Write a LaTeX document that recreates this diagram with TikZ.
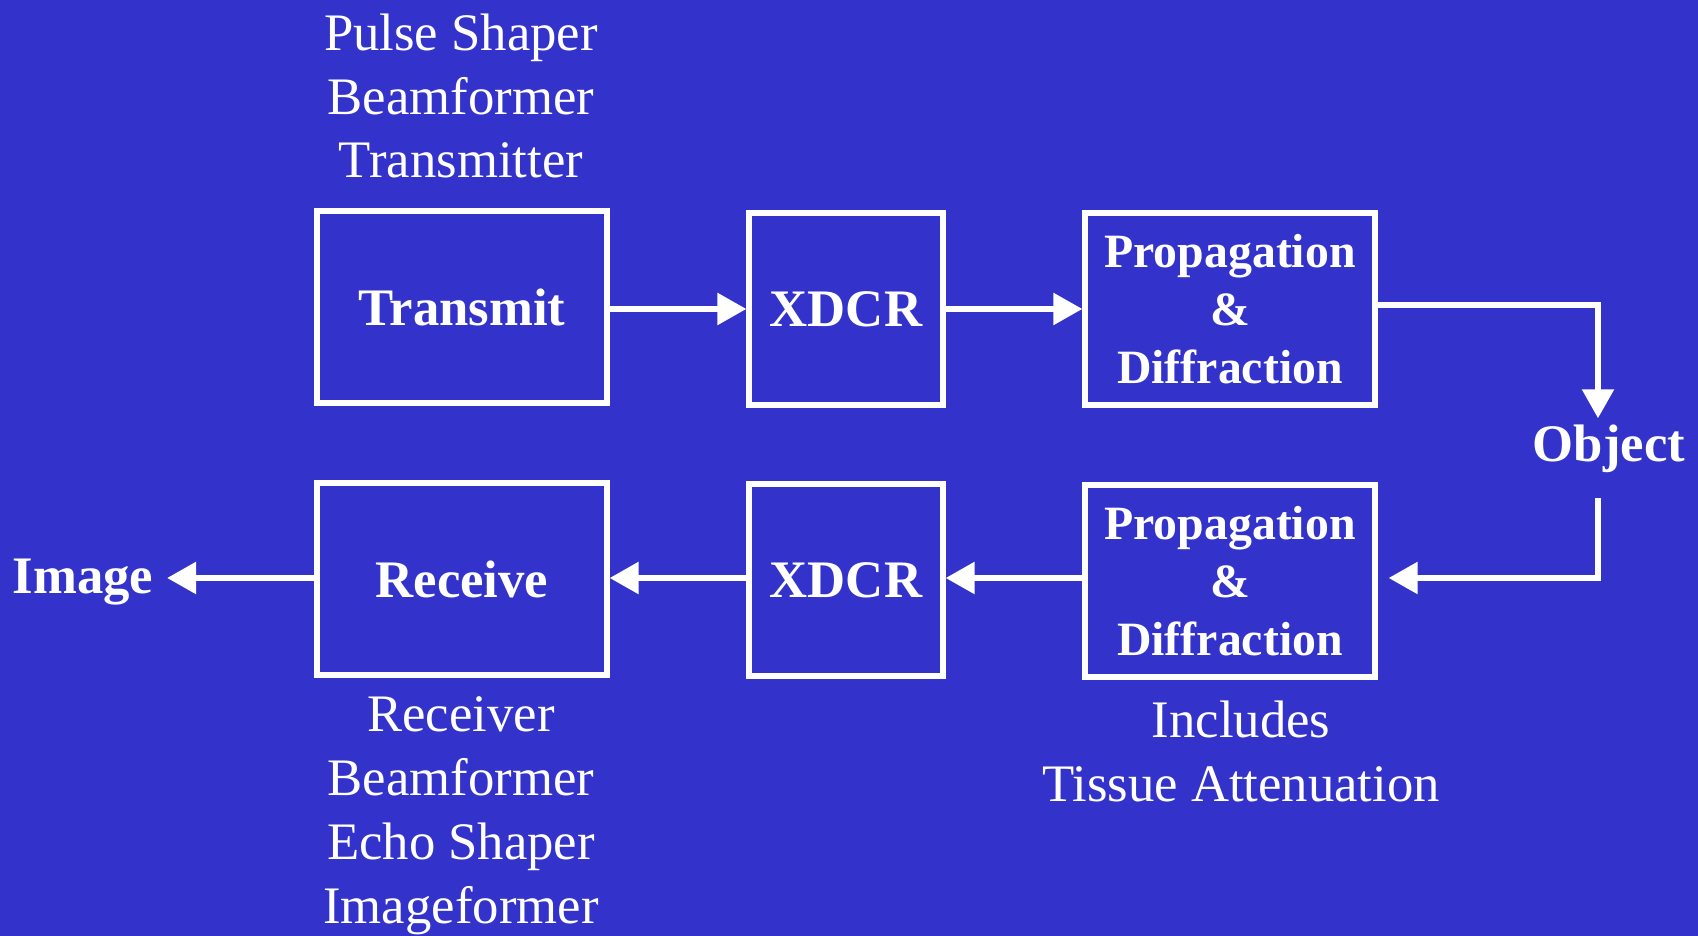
\documentclass[tikz,border=0pt]{standalone}
\usepackage{fontspec}
\setmainfont{Liberation Serif}
\usepackage{tikz}
\usepackage{xcolor}
\usetikzlibrary{
  arrows.meta,
  calc,
  positioning
}
\definecolor{slideblue}{HTML}{3333CC}
\tikzset{
  >={Triangle[length=0.29cm, width=0.31cm]},
  every picture/.style={line width=1.2pt},
  box/.style={draw=white, line width=1.5pt, minimum width=2.9cm, minimum height=1.92cm, align=center, text=white, font=\fontsize{15}{18}\selectfont\bfseries},
  smallbox/.style={box, minimum width=1.94cm},
  propbox/.style={box, font=\fontsize{13.6}{16.5}\selectfont\bfseries},
  note/.style={align=center, text=white, font=\fontsize{15}{18.2}\selectfont},
  endlabel/.style={text=white, font=\fontsize{15}{18}\selectfont\bfseries},
  arrow/.style={->, draw=white, line width=1.6pt}
}

\begin{document}
\begin{tikzpicture}
  \fill[slideblue] (0,0) rectangle (16.98,9.36);
  \useasboundingbox (0,0) rectangle (16.98,9.36);

  % transmit path
  \node[box] (tx) at (4.62,6.29) {Transmit};
  \node[smallbox] (xdcrA) at (8.46,6.27) {XDCR};
  \node[propbox] (propA) at (12.30,6.27) {Propagation\\\&\\Diffraction};

  % receive path
  \node[box] (rx) at (4.62,3.57) {Receive};
  \node[smallbox] (xdcrB) at (8.46,3.56) {XDCR};
  \node[propbox] (propB) at (12.30,3.55) {Propagation\\\&\\Diffraction};

  \node[endlabel] (obj) at (16.09,4.87) {Object};
  \node[endlabel] (img) at (0.83,3.54) {Image};

  \node[note] (txnote) at (4.61,8.40) {Pulse Shaper\\Beamformer\\Transmitter};
  \node[note] (rxnote) at (4.61,1.20) {Receiver\\Beamformer\\Echo Shaper\\Imageformer};
  \node[note] (propnote) at (12.41,1.85) {Includes\\Tissue Attenuation};

  \coordinate (bendA) at (15.98,6.31);
  \coordinate (startB) at (15.98,4.38);
  \coordinate (bendB) at (15.98,3.58);

  \draw[arrow] (tx.east |- 0,6.27) -- (xdcrA.west |- 0,6.27);
  \draw[arrow] (xdcrA.east |- 0,6.27) -- (propA.west |- 0,6.27);
  \draw[arrow, shorten >=-0.07cm] (propA.east |- bendA) -- (bendA) -- (bendA |- obj.north);
  \draw[arrow, shorten >=0.11cm] (startB) -- (bendB) -- (bendB -| propB.east);
  \draw[arrow] (propB.west |- bendB) -- (xdcrB.east |- bendB);
  \draw[arrow] (xdcrB.west |- bendB) -- (rx.east |- bendB);
  \draw[arrow] (rx.west |- bendB) -- (img.east |- bendB);
\end{tikzpicture}
\end{document}
